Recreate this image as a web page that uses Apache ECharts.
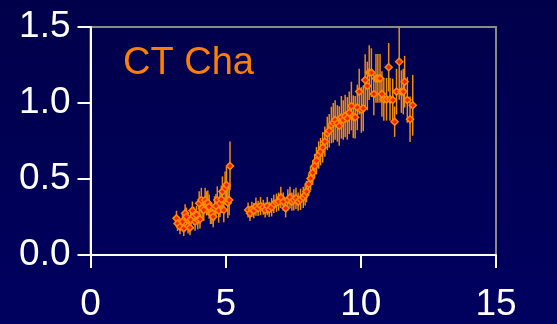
<!DOCTYPE html>
<html>
<head>
<meta charset="utf-8">
<script src="https://cdn.jsdelivr.net/npm/echarts@6/dist/echarts.min.js"></script>
<style>
  html, body { margin: 0; padding: 0; background: #000050; }
  #chart { width: 557px; height: 324px; }
</style>
</head>
<body>
<div id="chart"></div>
<script>
// CT Cha light curve, phase vs flux with error bars
const xVals = [
  3.18, 3.22, 3.31, 3.40, 3.45, 3.50, 3.55, 3.61, 3.68, 3.71,
  3.77, 3.82, 3.87, 3.92, 3.97, 4.02, 4.05, 4.10, 4.13, 4.19,
  4.24, 4.29, 4.34, 4.39, 4.44, 4.49, 4.54, 4.59, 4.64, 4.69,
  4.74, 4.79, 4.84, 4.88, 4.93, 4.98, 5.03, 5.08, 5.13, 5.16,
  5.83, 5.90, 5.97, 6.04, 6.12, 6.20, 6.29, 6.39, 6.46, 6.54,
  6.61, 6.70, 6.78, 6.88, 6.96, 7.04, 7.13, 7.22, 7.30, 7.38,
  7.45, 7.52, 7.60, 7.68, 7.77, 7.87, 7.94, 7.99,
  8.07, 8.14, 8.22, 8.29, 8.36, 8.44, 8.51, 8.59, 8.67, 8.76,
  8.83, 8.91, 8.98, 9.05, 9.13, 9.20, 9.28, 9.35, 9.42, 9.50,
  9.57, 9.65, 9.72, 9.79, 9.87, 9.94, 10.02, 10.09, 10.16, 10.24,
  10.31, 10.39, 10.48, 10.56, 10.63, 10.71, 10.78, 10.85, 10.95, 11.03,
  11.08, 11.18, 11.25, 11.32, 11.42, 11.50, 11.57, 11.62, 11.72, 11.82,
  11.92
]
const yVals = [
  0.241, 0.208, 0.186, 0.219, 0.175, 0.274, 0.252, 0.191, 0.180, 0.230,
  0.292, 0.257, 0.219, 0.263, 0.230, 0.340, 0.235, 0.362, 0.307, 0.296,
  0.362, 0.340, 0.344, 0.318, 0.274, 0.274, 0.252, 0.307, 0.322, 0.362,
  0.292, 0.340, 0.366, 0.417, 0.296, 0.439, 0.461, 0.344, 0.362, 0.586,
  0.296, 0.274, 0.300, 0.292, 0.318, 0.307, 0.322, 0.314, 0.296, 0.322,
  0.300, 0.314, 0.336, 0.344, 0.351, 0.379, 0.351, 0.307, 0.362, 0.379,
  0.351, 0.362, 0.373, 0.351, 0.366, 0.379, 0.395, 0.417,
  0.467, 0.504, 0.542, 0.585, 0.620, 0.658, 0.680, 0.708, 0.746, 0.800,
  0.818, 0.855, 0.870, 0.888, 0.866, 0.849, 0.906, 0.888, 0.914, 0.899,
  0.936, 0.980, 0.910, 0.906, 0.971, 1.075, 0.954, 0.965, 1.151, 1.112,
  1.200, 1.200, 1.059, 1.162, 1.162, 1.162, 1.059, 1.024, 1.024, 1.235,
  1.024, 1.020, 0.877, 1.075, 1.272, 1.075, 1.075, 1.140, 1.020, 0.893,
  0.985
]
const errVals = [
  0.05, 0.05, 0.05, 0.05, 0.05, 0.06, 0.06, 0.05, 0.05, 0.06,
  0.06, 0.06, 0.06, 0.06, 0.06, 0.08, 0.06, 0.08, 0.07, 0.07,
  0.08, 0.08, 0.08, 0.08, 0.07, 0.07, 0.07, 0.08, 0.08, 0.09,
  0.08, 0.09, 0.09, 0.10, 0.08, 0.11, 0.12, 0.10, 0.10, 0.16,
  0.05, 0.05, 0.05, 0.05, 0.06, 0.05, 0.06, 0.05, 0.05, 0.06,
  0.05, 0.06, 0.06, 0.06, 0.06, 0.07, 0.06, 0.06, 0.07, 0.07,
  0.06, 0.07, 0.07, 0.06, 0.07, 0.07, 0.07, 0.07,
  0.07, 0.08, 0.08, 0.08, 0.09, 0.09, 0.09, 0.10, 0.10, 0.11,
  0.11, 0.12, 0.13, 0.13, 0.12, 0.13, 0.14, 0.13, 0.14, 0.14,
  0.14, 0.16, 0.14, 0.14, 0.15, 0.15, 0.15, 0.15, 0.17, 0.16,
  0.18, 0.16, 0.14, 0.16, 0.16, 0.16, 0.15, 0.14, 0.14, 0.16,
  0.14, 0.14, 0.10, 0.15, 0.25, 0.14, 0.15, 0.17, 0.15, 0.15,
  0.20
]
const xTicks = [0, 5, 10, 15]
const yTicks = [0.0, 0.5, 1.0, 1.5]
const label = 'CT Cha'

const points = xVals.map((x, i) => [x, yVals[i]])
const bars = xVals.map((x, i) => [x, yVals[i] - errVals[i], yVals[i] + errVals[i]])

const chart = echarts.init(document.getElementById('chart'))
const fontFamily = '"Liberation Sans", Arial, sans-serif'
const axisCommon = {
  axisLine: { show: true, lineStyle: { color: '#ffffff', width: 2 } },
  axisTick: { show: true, inside: false, length: 13, lineStyle: { color: '#ffffff', width: 2 } },
  splitLine: { show: false },
  axisLabel: { color: '#ffffff', fontSize: 37, fontFamily: fontFamily }
}
chart.setOption({
  backgroundColor: {
    type: 'linear', x: 0, y: 0, x2: 0, y2: 1,
    colorStops: [{ offset: 0, color: '#00004a' }, { offset: 1, color: '#000060' }]
  },
  animation: false,
  grid: {
    left: 90.5, right: 61, top: 27, bottom: 69,
    show: true, borderColor: '#8a8a8a', borderWidth: 2, backgroundColor: 'transparent'
  },
  graphic: [{
    type: 'text', left: 123, top: 45,
    style: { text: label, fill: '#ff8000', fontSize: 38, fontFamily: fontFamily }
  }],
  xAxis: Object.assign({}, axisCommon, {
    type: 'value', min: xTicks[0], max: xTicks[xTicks.length - 1], interval: 5,
    axisLabel: Object.assign({}, axisCommon.axisLabel, { margin: 31 })
  }),
  yAxis: Object.assign({}, axisCommon, {
    type: 'value', min: yTicks[0], max: yTicks[yTicks.length - 1], interval: 0.5,
    axisLabel: Object.assign({}, axisCommon.axisLabel, {
      margin: 20,
      formatter: v => v.toFixed(1)
    })
  }),
  series: [
    {
      type: 'custom',
      data: bars,
      clip: false,
      renderItem: function (params, api) {
        const p1 = api.coord([api.value(0), api.value(1)])
        const p2 = api.coord([api.value(0), Math.min(api.value(2), 1.5)])
        return {
          type: 'line',
          shape: { x1: p1[0], y1: p1[1], x2: p2[0], y2: p2[1] },
          style: { stroke: '#f08a10', lineWidth: 1.5 }
        }
      },
      z: 2
    },
    {
      type: 'scatter',
      data: points,
      symbol: 'diamond',
      symbolSize: 7,
      itemStyle: { color: '#ff2000', borderColor: '#ff8c00', borderWidth: 1.5, opacity: 1 },
      z: 3
    }
  ]
})
</script>
</body>
</html>
